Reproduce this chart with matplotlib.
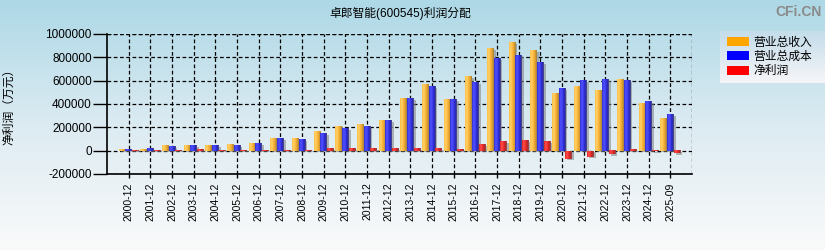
import numpy as np
import matplotlib
matplotlib.use("Agg")
import matplotlib.pyplot as plt
import matplotlib.transforms as mtransforms
from matplotlib.colors import LinearSegmentedColormap

plt.rcParams['font.family'] = ['Liberation Sans', 'Noto Sans CJK SC', 'DejaVu Sans']

periods = ["2000-12", "2001-12", "2002-12", "2003-12", "2004-12", "2005-12", "2006-12",
           "2007-12", "2008-12", "2009-12", "2010-12", "2011-12", "2012-12", "2013-12",
           "2014-12", "2015-12", "2016-12", "2017-12", "2018-12", "2019-12", "2020-12",
           "2021-12", "2022-12", "2023-12", "2024-12", "2025-09"]
revenue = [17000, 17000, 46000, 46000, 46000, 54000, 63000, 105000, 105000, 165000,
           208000, 225000, 259000, 447000, 567000, 439000, 635000, 875000, 926000, 858000,
           490000, 550000, 516000, 610000, 405000, 276000]
cost = [11000, 20000, 37000, 46000, 46000, 46000, 63000, 105000, 97000, 148000,
        191000, 208000, 259000, 447000, 550000, 439000, 584000, 789000, 815000, 755000,
        533000, 601000, 610000, 601000, 422000, 311000]
profit = [8000, 8000, 8000, 11000, 8000, 8000, 8000, 8000, 8000, 20000,
          20000, 20000, 20000, 20000, 20000, 11000, 54000, 80000, 88000, 80000,
          -68000, -51000, -31000, 11000, -6000, -20000]
series = ["营业总收入", "营业总成本", "净利润"]
colors = ["#FFA500", "#0000FF", "#FF0000"]
yticks = [-200000, 0, 200000, 400000, 600000, 800000, 1000000]

W, H = 825, 250
fig = plt.figure(figsize=(W / 100, H / 100), dpi=100)

# background gradient
bg = fig.add_axes([0, 0, 1, 1], zorder=-10)
bg_cmap = LinearSegmentedColormap.from_list("bg", ["#ADD8E6", "#DCEBF2", "#FAFAFA"])
bg.imshow(np.linspace(0, 1, 256).reshape(-1, 1), aspect="auto", cmap=bg_cmap,
          extent=[0, 1, 0, 1])
bg.set_axis_off()

ax = fig.add_axes([107 / W, 1 - 174 / H, 585 / W, 140 / H])
ax.patch.set_alpha(0)

x = np.arange(len(periods))
w = 0.31
shade = {
    "#FFA500": ["#FFC040", "#FFD070", "#FFB838", "#E0A030", "#A08040"],
    "#0000FF": ["#3030D0", "#5050FF", "#4040F0", "#2020C0", "#505080"],
    "#FF0000": ["#E02020", "#FF5050", "#F03030", "#C02020", "#905050"],
}
shadow_tr = mtransforms.offset_copy(ax.transData, fig=fig, x=2, y=-1.5, units="dots")
handles = []
for i, (vals, col) in enumerate(zip([revenue, cost, profit], colors)):
    ax.bar(x + (i - 1) * w, vals, w, color="#808080", alpha=0.55,
           transform=shadow_tr, zorder=2)
    bars = ax.bar(x + (i - 1) * w, vals, w, color=col, zorder=3, label=series[i])
    handles.append(bars)
    cmap = LinearSegmentedColormap.from_list("s%d" % i, shade[col])
    grad = np.linspace(0, 1, 32).reshape(1, -1)
    for p in bars.patches:
        x0, y0 = p.get_x(), p.get_y()
        x1, y1 = x0 + p.get_width(), y0 + p.get_height()
        ax.imshow(grad, aspect="auto", cmap=cmap, extent=[x0, x1, min(y0, y1), max(y0, y1)],
                  zorder=4, interpolation="bilinear")

ax.set_xlim(-1, 26)
ax.set_ylim(-200000, 1000000)
ax.set_yticks(yticks)
ax.set_yticklabels([str(v) for v in yticks], fontsize=8.5)
ax.set_xticks(x)
ax.set_xticklabels(periods, rotation=90, fontsize=7.5)
ax.grid(True, color="black", linestyle=(0, (3, 2)), linewidth=0.9, zorder=1)
ax.axvline(26, color="black", linestyle=(0, (3, 2)), linewidth=0.9, zorder=1)
ax.axhline(1000000, color="black", linestyle=(0, (3, 2)), linewidth=0.9, zorder=1)
ax.set_axisbelow(True)
for s in ["top", "right"]:
    ax.spines[s].set_visible(False)
ax.spines["left"].set_linewidth(1.2)
ax.spines["bottom"].set_linewidth(1.2)
ax.tick_params(axis="y", length=10, width=1, pad=1)
ax.tick_params(axis="x", length=3, width=1, pad=3)
ax.set_ylabel("净利润（万元）", fontsize=8.5, labelpad=4)
ax.yaxis.set_label_coords(-92 / 585, 0.5)

fig.text(0.485, 0.948, "卓郎智能(600545)利润分配", ha="center", va="center", fontsize=8.5)
fig.text(0.996, 0.95, "CFi.CN", ha="right", va="center", fontsize=10, color="#8A8A8A",
         fontweight="bold")

# legend box with gradient
lg = fig.add_axes([720 / W, 1 - 83 / H, 105 / W, 52 / H], zorder=5)
lg_cmap = LinearSegmentedColormap.from_list("lg", ["#C4DCEA", "#F6F6F8"])
lg.imshow(np.linspace(0, 1, 64).reshape(-1, 1), aspect="auto", cmap=lg_cmap,
          extent=[0, 1, 0, 1])
lg.set_axis_off()
lg.legend(handles, series, loc="center left", frameon=False, fontsize=8.5,
          handlelength=1.9, handleheight=0.8, handletextpad=0.4, labelspacing=0.2,
          borderaxespad=0.0, borderpad=0.2, bbox_to_anchor=(0.04, 0.5))

fig.savefig("out.png", dpi=100)
